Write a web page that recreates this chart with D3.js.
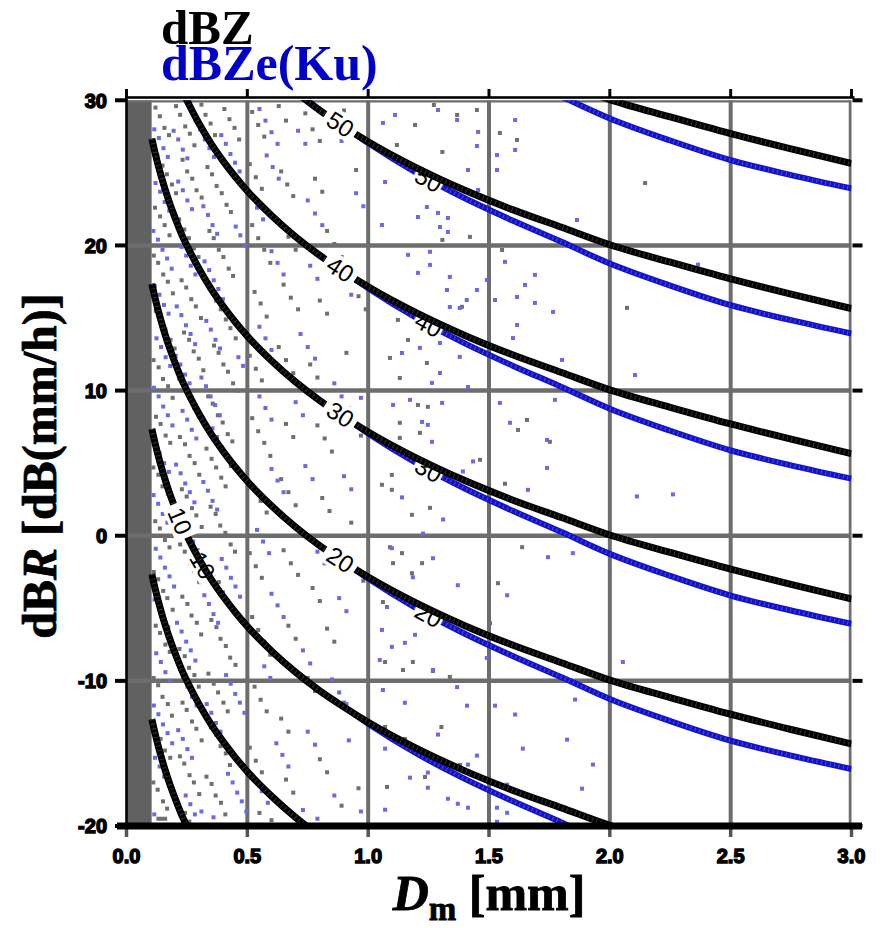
<!DOCTYPE html>
<html>
<head>
<meta charset="utf-8">
<script src="https://cdn.jsdelivr.net/npm/d3@7"></script>
<style>
  body { margin: 0; background: #fff; }
  svg { display: block; }
</style>
</head>
<body>
<svg id="chart" width="883" height="928"></svg>
<script>
// ---- data -------------------------------------------------------------
// Dm nodes [mm] and the offset (dBZ - dBR) along each contour family
const dmGrid   = [0.105, 0.12, 0.14, 0.16, 0.18, 0.2, 0.23, 0.26, 0.3, 0.35, 0.4, 0.45, 0.5, 0.6, 0.7, 0.8, 0.9, 1.0, 1.2, 1.4, 1.6, 1.8, 2.0, 2.25, 2.5, 2.75, 3.0];
const zMinusR  = [2.65, 3.75, 5.02, 6.15, 7.15, 8.05, 9.3, 10.34, 11.6, 12.99, 14.19, 15.27, 16.25, 17.94, 19.41, 20.69, 21.81, 22.85, 24.65, 26.2, 27.55, 28.75, 29.95, 31.15, 32.3, 33.35, 34.35];
const zeMinusR = [2.65, 3.75, 5.02, 6.15, 7.15, 8.05, 9.3, 10.34, 11.6, 12.99, 14.19, 15.27, 16.25, 17.94, 19.41, 20.69, 21.81, 22.95, 25.0, 26.75, 28.3, 29.75, 31.25, 32.77, 34.12, 35.15, 36.07];

const levels = [-10, 0, 10, 20, 30, 40, 50, 60];

const zLabelLevels  = [10, 20, 30, 40, 50];
const zLabelDm      = [0.222, 0.885, 0.885, 0.885, 0.885];
const zeLabelLevels = [10, 20, 30, 40, 50];
const zeLabelDm     = [0.315, 1.25, 1.25, 1.25, 1.25];

const xTicks      = [0, 0.5, 1.0, 1.5, 2.0, 2.5, 3.0];
const xTickLabels = ["0.0", "0.5", "1.0", "1.5", "2.0", "2.5", "3.0"];
const yTicks      = [30, 20, 10, 0, -10, -20];
const yTickLabels = ["30", "20", "10", "0", "-10", "-20"];

const noDataDm = 0.104;   // Dm below this is masked

// sample points [Dm, dBR]
const grayPts = [
  [0.12,29.5],[0.138,28.9],[0.157,28.1],[0.176,27.6],
  [0.205,29.6],[0.222,29.0],[0.243,28.2],[0.262,27.7],[0.281,26.9],
  [0.31,29.7],[0.327,29.0],[0.348,28.4],[0.366,27.6],
  [0.405,29.4],[0.426,28.7],[0.447,28.1],[0.466,27.3],
  [0.128,26.2],[0.149,25.5],[0.167,24.9],[0.188,24.2],[0.205,23.6],
  [0.232,25.9],[0.251,25.1],[0.272,24.6],[0.29,23.8],[0.311,23.3],
  [0.335,25.4],[0.354,24.9],[0.373,24.1],[0.394,23.6],[0.414,22.8],[0.432,22.3],
  [0.118,22.6],[0.139,22.0],[0.158,21.4],[0.178,20.7],
  [0.218,21.8],[0.239,21.1],[0.258,20.5],[0.279,19.8],[0.298,19.2],
  [0.343,21.0],[0.361,20.5],[0.382,19.7],[0.401,19.2],[0.423,18.4],[0.441,17.9],
  [0.113,19.3],[0.131,18.8],[0.152,18.0],[0.171,17.5],[0.192,16.7],
  [0.228,17.6],[0.247,17.1],[0.268,16.3],[0.287,15.8],[0.308,15.0],
  [0.352,16.9],[0.371,16.2],[0.39,15.6],[0.411,14.9],[0.43,14.3],[0.452,13.6],
  [0.121,15.5],[0.142,14.8],[0.161,14.2],[0.182,13.5],[0.199,12.9],
  [0.238,14.0],[0.259,13.5],[0.278,12.7],[0.299,12.2],[0.318,11.4],
  [0.362,13.1],[0.381,12.6],[0.401,11.8],[0.42,11.3],[0.441,10.5],[0.459,10.0],
  [0.112,12.1],[0.133,11.6],[0.151,10.8],[0.172,10.3],[0.191,9.5],
  [0.219,10.8],[0.241,10.1],[0.259,9.5],[0.281,8.8],[0.299,8.2],
  [0.338,9.6],[0.357,9.1],[0.378,8.3],[0.398,7.8],[0.419,7.0],[0.438,6.5],
  [0.122,8.2],[0.141,7.7],[0.162,6.9],[0.181,6.4],
  [0.221,6.8],[0.242,6.3],[0.261,5.5],[0.282,5.0],[0.301,4.2],
  [0.331,6.0],[0.352,5.3],[0.371,4.7],[0.392,4.0],[0.41,3.4],
  [0.111,4.7],[0.132,4.2],[0.149,3.4],[0.171,2.9],[0.19,2.1],
  [0.229,3.2],[0.249,2.7],[0.271,1.9],[0.289,1.4],[0.311,0.6],
  [0.348,2.0],[0.369,1.5],[0.388,0.7],[0.409,0.2],[0.431,-0.6],[0.449,-1.1],
  [0.119,1.0],[0.138,0.5],[0.159,-0.3],[0.178,-0.8],
  [0.222,-0.6],[0.241,-1.1],[0.262,-1.9],[0.279,-2.4],[0.301,-3.2],
  [0.342,-1.9],[0.361,-2.6],[0.382,-3.2],[0.399,-3.9],[0.421,-4.5],
  [0.113,-2.5],[0.131,-3.0],[0.152,-3.8],[0.169,-4.3],[0.191,-5.1],
  [0.231,-4.2],[0.252,-4.7],[0.269,-5.5],[0.291,-6.0],[0.309,-6.8],
  [0.351,-5.8],[0.372,-6.3],[0.389,-7.1],[0.411,-7.6],[0.429,-8.4],[0.451,-8.9],
  [0.121,-6.2],[0.139,-6.7],[0.161,-7.5],[0.179,-8.0],
  [0.219,-7.8],[0.241,-8.3],[0.259,-9.1],[0.281,-9.6],[0.299,-10.4],
  [0.339,-9.5],[0.361,-10.2],[0.379,-10.8],[0.401,-11.5],[0.419,-12.1],
  [0.112,-9.8],[0.131,-10.3],[0.149,-11.1],[0.171,-11.6],[0.188,-12.4],
  [0.232,-11.5],[0.249,-12.0],[0.271,-12.8],[0.289,-13.3],[0.311,-14.1],
  [0.349,-13.2],[0.371,-13.7],[0.389,-14.5],[0.411,-15.0],[0.428,-15.8],
  [0.122,-13.5],[0.141,-14.0],[0.159,-14.8],[0.181,-15.3],
  [0.221,-15.2],[0.239,-15.7],[0.261,-16.5],[0.279,-17.0],[0.301,-17.8],
  [0.331,-16.6],[0.352,-17.1],[0.369,-17.9],[0.391,-18.4],[0.409,-19.2],
  [0.111,-17.0],[0.129,-17.5],[0.151,-18.3],[0.168,-18.8],
  [0.132,-19.5],[0.146,-19.5],[0.16,-19.5],[0.242,-19.1],[0.26,-19.7],
  [0.52,29.2],[0.545,28.3],[0.57,27.5],[0.63,29.6],[0.66,28.6],
  [0.74,29.1],[0.77,28.0],[0.8,27.2],[0.9,29.3],[0.93,28.2],
  [0.51,25.6],[0.535,24.7],[0.56,23.9],[0.64,25.1],[0.665,24.2],[0.69,23.4],
  [0.78,24.6],[0.81,23.7],[0.95,25.2],
  [0.52,21.4],[0.545,20.5],[0.57,19.7],[0.595,18.8],[0.67,20.6],[0.7,19.7],
  [0.83,21.0],[0.86,20.1],[0.89,19.2],
  [0.53,16.8],[0.555,16.0],[0.58,15.1],[0.65,17.3],[0.68,16.4],[0.71,15.6],
  [0.8,16.2],[0.83,15.3],[0.96,16.5],[0.99,15.6],
  [0.51,12.4],[0.535,11.5],[0.56,10.7],[0.63,13.0],[0.66,12.1],[0.69,11.2],
  [0.76,11.8],[0.79,10.9],[0.91,12.6],
  [0.52,8.1],[0.545,7.2],[0.57,6.4],[0.595,5.5],[0.66,7.7],[0.69,6.8],
  [0.79,7.6],[0.82,6.7],[0.85,5.8],[0.97,6.9],
  [0.53,3.3],[0.555,2.4],[0.58,1.6],[0.64,3.9],[0.67,3.0],[0.7,2.1],
  [0.81,2.6],[0.84,1.7],[0.93,0.9],
  [0.51,-1.2],[0.535,-2.1],[0.56,-2.9],[0.65,-1.0],[0.68,-1.9],[0.71,-2.7],
  [0.77,-3.6],[0.8,-4.5],[0.95,-2.2],[0.98,-3.1],
  [0.52,-5.6],[0.545,-6.5],[0.57,-7.3],[0.595,-8.2],[0.67,-6.2],[0.7,-7.1],
  [0.83,-6.4],[0.86,-7.3],
  [0.53,-10.4],[0.555,-11.3],[0.58,-12.1],[0.64,-12.6],[0.67,-13.5],
  [0.75,-9.8],[0.78,-10.7],[0.9,-11.5],
  [0.51,-14.6],[0.535,-15.5],[0.56,-16.3],[0.66,-16.8],[0.69,-17.7],
  [0.8,-15.4],[0.83,-16.3],[0.55,-19.1],[0.6,-19.6],[0.89,-18.6],[0.96,-17.4],
  [1.194,28.3],[1.119,26.92],[1.307,26.44],[1.368,28.99],[1.45,29.33],
  [1.421,20.59],[1.307,20.38],[1.272,29.68],[1.545,27.75],[1.616,27.27],
  [2.146,24.3],[1.554,19.69],[1.388,15.77],[1.123,14.87],[1.165,13.49],
  [1.09,12.25],[1.243,11.9],[1.131,10.87],[2.071,15.7],
  [1.206,9.01],[1.247,8.88],[1.131,7.78],[1.214,7.09],[1.131,6.74],
  [1.098,4.19],[1.098,3.16],[1.256,1.92],[1.181,1.44],[1.057,3.51],
  [1.463,5.23],[1.657,7.98],[1.62,7.29],[1.752,6.47],[1.566,3.58],
  [1.09,-0.79],[1.14,-1.2],[1.103,-1.89],[1.223,-1.89],[1.181,-2.58],
  [1.637,-0.79],[1.537,-3.27],[1.504,-6.02],[1.061,-4.57],
  [1.185,-8.7],[1.144,-9.25],[1.338,-9.73],[1.07,-8.7],[1.268,-9.32],
  [1.07,-13.18],[1.303,-13.18],[1.152,-14.0],[1.38,-15.79],[1.235,-16.62],[1.078,-17.31]
];

const bluePts = [
  [0.115,28.0],[0.134,27.4],[0.153,26.7],[0.171,26.1],
  [0.195,27.9],[0.214,27.3],[0.233,26.6],[0.252,26.0],
  [0.286,28.6],[0.305,28.0],[0.324,27.3],[0.343,26.7],[0.362,26.1],
  [0.392,27.6],[0.411,27.0],[0.43,26.3],[0.449,25.7],[0.468,25.1],
  [0.12,24.3],[0.139,23.7],[0.158,23.0],[0.177,22.4],
  [0.214,24.4],[0.233,23.8],[0.252,23.1],[0.271,22.5],
  [0.318,22.7],[0.337,22.1],[0.356,21.4],[0.375,20.8],
  [0.452,21.3],[0.471,20.7],[0.49,20.0],
  [0.111,21.0],[0.13,20.4],[0.149,19.7],[0.168,19.1],[0.187,18.4],
  [0.228,19.9],[0.247,19.3],[0.266,18.6],[0.285,18.0],
  [0.323,18.9],[0.342,18.3],[0.361,17.6],[0.38,17.0],[0.399,16.3],
  [0.117,17.2],[0.136,16.6],[0.155,15.9],[0.174,15.3],
  [0.208,15.8],[0.227,15.2],[0.246,14.5],[0.265,13.9],[0.284,13.2],
  [0.33,14.8],[0.349,14.2],[0.368,13.5],[0.387,12.9],
  [0.463,12.3],[0.482,11.7],
  [0.124,13.6],[0.143,13.0],[0.162,12.3],[0.181,11.7],
  [0.204,12.4],[0.223,11.8],[0.242,11.1],[0.261,10.5],
  [0.31,10.9],[0.329,10.3],[0.348,9.6],[0.367,9.0],[0.386,8.3],
  [0.114,10.2],[0.133,9.6],[0.152,8.9],[0.171,8.3],[0.19,7.6],
  [0.232,8.6],[0.251,8.0],[0.27,7.3],[0.289,6.7],
  [0.356,7.4],[0.375,6.8],[0.394,6.1],[0.413,5.5],[0.432,4.8],
  [0.118,6.3],[0.137,5.7],[0.156,5.0],[0.175,4.4],
  [0.205,4.9],[0.224,4.3],[0.243,3.6],[0.262,3.0],[0.281,2.3],
  [0.318,3.7],[0.337,3.1],[0.356,2.4],[0.375,1.8],
  [0.112,2.8],[0.131,2.2],[0.15,1.5],[0.169,0.9],
  [0.238,0.9],[0.257,0.3],[0.276,-0.4],[0.295,-1.0],
  [0.394,-1.6],[0.413,-2.2],[0.432,-2.9],[0.451,-3.5],[0.47,-4.2],
  [0.121,-0.9],[0.14,-1.5],[0.159,-2.2],[0.178,-2.8],[0.197,-3.5],
  [0.322,-4.1],[0.341,-4.7],[0.36,-5.4],[0.379,-6.0],
  [0.116,-4.4],[0.135,-5.0],[0.154,-5.7],[0.173,-6.3],
  [0.209,-6.0],[0.228,-6.6],[0.247,-7.3],[0.266,-7.9],[0.285,-8.6],
  [0.412,-9.6],[0.431,-10.2],[0.45,-10.9],[0.469,-11.5],[0.488,-12.2],
  [0.123,-8.1],[0.142,-8.7],[0.161,-9.4],[0.18,-10.0],
  [0.233,-9.8],[0.252,-10.4],[0.271,-11.1],[0.29,-11.7],
  [0.332,-11.6],[0.351,-12.2],[0.37,-12.9],[0.389,-13.5],
  [0.113,-11.7],[0.132,-12.3],[0.151,-13.0],[0.17,-13.6],[0.189,-14.3],
  [0.214,-13.4],[0.233,-14.0],[0.252,-14.7],[0.271,-15.3],
  [0.42,-16.4],[0.439,-17.0],[0.458,-17.7],[0.477,-18.3],[0.496,-19.0],
  [0.118,-15.3],[0.137,-15.9],[0.156,-16.6],[0.175,-17.2],
  [0.245,-17.9],[0.264,-18.5],[0.283,-19.2],[0.31,-19.0],[0.36,-19.4],[0.115,-19.2],
  [0.55,29.4],[0.575,28.6],[0.6,27.8],[0.625,27.0],[0.58,26.2],[0.605,25.4],[0.63,24.6],
  [0.71,27.9],[0.74,27.0],[0.86,28.1],[0.89,27.2],[0.95,23.6],[0.98,22.7],
  [0.75,23.1],[0.78,22.2],[0.81,21.4],[0.54,22.6],[0.565,21.8],
  [0.6,19.6],[0.625,18.8],[0.65,18.0],[0.76,18.6],[0.79,17.7],[0.9,17.5],[0.93,16.6],
  [0.55,14.4],[0.575,13.6],[0.6,12.8],[0.72,13.9],[0.75,13.0],[0.78,12.2],
  [0.86,10.5],[0.89,9.6],[0.92,8.8],[0.55,9.6],[0.575,8.8],[0.6,8.0],
  [0.7,9.2],[0.73,8.3],[0.97,9.5],
  [0.6,4.6],[0.625,3.8],[0.65,3.0],[0.74,4.8],[0.77,3.9],[0.9,4.1],[0.93,3.2],
  [0.54,0.4],[0.565,-0.4],[0.59,-1.2],[0.76,-0.2],[0.79,-1.1],[0.82,-1.9],
  [0.88,-4.3],[0.91,-5.2],[0.6,-4.0],[0.625,-4.8],[0.65,-5.6],
  [0.73,-7.9],[0.76,-8.8],[0.57,-9.0],[0.595,-9.8],
  [0.85,-9.9],[0.88,-10.8],[0.91,-11.6],[0.62,-14.3],[0.645,-15.1],[0.67,-15.9],
  [0.75,-13.5],[0.78,-14.4],[0.56,-17.6],[0.585,-18.4],
  [0.86,-17.9],[0.92,-14.1],[0.97,-19.0],[0.73,-18.9],[0.79,-19.5],
  [1.111,28.99],[1.061,28.44],[1.289,29.33],[1.368,28.64],[1.455,27.82],
  [1.45,26.85],[1.413,25.2],[1.07,24.37],[1.243,22.65],[1.206,21.96],
  [1.289,22.24],[1.33,21.89],[1.057,21.41],[1.297,21.27],[1.33,20.93],
  [1.455,23.82],[1.608,28.64],[1.608,26.58],[1.533,26.23],[1.533,25.2],
  [1.864,21.75],[1.165,19.35],[1.256,19.56],[1.256,18.66],[1.206,18.11],
  [1.566,18.87],[1.338,17.83],[1.491,17.62],[1.45,16.93],[1.326,16.93],
  [1.408,16.24],[1.379,15.69],[1.338,15.76],[1.69,17.97],[1.649,17.28],
  [1.616,16.45],[1.69,16.04],[1.765,15.42],[1.525,16.24],[1.616,14.52],
  [1.599,13.62],[1.264,14.17],[1.214,12.94],[1.14,12.59],[1.297,13.28],
  [1.379,12.32],[1.297,11.21],[1.264,10.53],[1.413,10.25],[1.802,12.11],
  [2.104,11.07],[1.103,9.01],[1.173,9.36],[1.306,9.15],[1.223,7.84],
  [1.247,7.64],[1.264,6.47],[1.14,2.64],[1.31,1.12],[1.434,5.12],
  [1.392,4.43],[1.545,9.15],[1.587,7.78],[1.74,6.6],[1.74,4.67],
  [1.661,3.16],[1.773,9.36],[2.112,2.71],[2.261,2.85],[1.098,-0.86],
  [1.268,-1.55],[1.185,-2.86],[1.371,-3.41],[1.744,-1.48],[1.847,-1.2],
  [1.575,-4.1],[1.227,0.15],[1.078,-4.91],[1.057,-6.49],[1.152,-7.38],
  [1.098,-7.66],[1.194,-6.83],[1.268,-9.25],[1.048,-8.56],[1.491,-8.42],
  [2.054,-8.7],[1.368,-10.43],[1.061,-10.63],[1.152,-11.51],[1.409,-11.71],
  [1.525,-11.71],[1.289,-13.7],[1.608,-12.32],[1.856,-11.29],[1.823,-14.05],
  [1.64,-14.67],[1.07,-14.67],[1.45,-15.15],[1.413,-15.77],[1.247,-16.32],
  [1.173,-16.67],[1.247,-17.36],[1.575,-17.15],[1.93,-15.77],[1.885,-17.43],
  [1.33,-18.12],[1.371,-18.47],[1.413,-18.74],[1.07,-18.88],[1.533,-18.74],
  [1.575,-19.09],[1.533,-19.71],[2.365,18.68]
];

// ---- layout -------------------------------------------------------------
const svg = d3.select("#chart");
const x = d3.scaleLinear().domain([0, 3]).range([126.5, 851.5]);
const y = d3.scaleLinear().domain([-20, 30]).range([826, 100.3]);
const [x0, x1] = x.range();
const [yb, yt] = y.range();

const GRID = "#6d6d6d";
const SANS = "'Liberation Sans', Arial, Helvetica, sans-serif";
const SERIF = "'Liberation Serif', 'Times New Roman', serif";

svg.append("rect").attr("width", 883).attr("height", 928).attr("fill", "#fff");

svg.append("defs").append("clipPath").attr("id", "plotClip")
  .append("rect").attr("x", x0).attr("y", yt).attr("width", x1 - x0).attr("height", yb - yt);

const plot = svg.append("g").attr("clip-path", "url(#plotClip)");

// masked small-Dm band
plot.append("rect")
  .attr("x", x(0)).attr("y", yt)
  .attr("width", x(noDataDm) - x(0)).attr("height", yb - yt)
  .attr("fill", "#616161");

// grid
plot.append("g").selectAll("line").data(xTicks.filter(d => d > 0)).join("line")
  .attr("x1", d => x(d)).attr("x2", d => x(d)).attr("y1", yt).attr("y2", yb)
  .attr("stroke", GRID).attr("stroke-width", d => d === 3 ? 5.5 : 4);
plot.append("g").selectAll("line").data(yTicks.filter(d => d > -20)).join("line")
  .attr("x1", x0).attr("x2", x1).attr("y1", d => y(d)).attr("y2", d => y(d))
  .attr("stroke", GRID).attr("stroke-width", 4.5);

// sample points
const drawPts = (pts, color) => plot.append("g").selectAll("rect").data(pts).join("rect")
  .attr("x", d => x(d[0]) - 2).attr("y", d => y(d[1]) - 2)
  .attr("width", 4).attr("height", 4).attr("fill", color);
drawPts(grayPts, "#6f6f6f");
drawPts(bluePts, "#6a6ae6");

// contour lines: dBR = level - (dBZ - dBR)(Dm)
const line = d3.line().x(d => x(d[0])).y(d => y(d[1])).curve(d3.curveMonotoneX);
const contour = (offsets, level) => dmGrid.map((dm, i) => [dm, level - offsets[i]]);

function drawFamily(offsets, color, width, slit) {
  const g = plot.append("g");
  return levels.map(lv => {
    const p = g.append("path").datum(contour(offsets, lv)).attr("d", line)
      .attr("fill", "none").attr("stroke", color).attr("stroke-width", width);
    g.append("path").datum(contour(offsets, lv)).attr("d", line)
      .attr("fill", "none").attr("stroke", slit).attr("stroke-width", width - 2.5)
      .attr("stroke-dasharray", "0.9 3.6");
    return p;
  });
}

// locate a point on a path by its x position
function pointAtX(node, px) {
  let lo = 0, hi = node.getTotalLength();
  for (let k = 0; k < 40; k++) {
    const mid = (lo + hi) / 2;
    if (node.getPointAtLength(mid).x < px) lo = mid; else hi = mid;
  }
  const l = (lo + hi) / 2;
  const p = node.getPointAtLength(l);
  const a = node.getPointAtLength(Math.max(0, l - 4));
  const b = node.getPointAtLength(l + 4);
  return { x: p.x, y: p.y, angle: Math.atan2(b.y - a.y, b.x - a.x) * 180 / Math.PI };
}

function drawLabels(paths, lvls, dms, boxW) {
  const g = plot.append("g");
  lvls.forEach((lv, i) => {
    const node = paths[levels.indexOf(lv)].node();
    const p = pointAtX(node, x(dms[i]));
    const lg = g.append("g").attr("transform", `translate(${p.x},${p.y}) rotate(${p.angle})`);
    lg.append("rect").attr("x", -boxW / 2).attr("y", -12).attr("width", boxW).attr("height", 24)
      .attr("fill", "#fff");
    lg.append("text").attr("text-anchor", "middle").attr("dy", "0.36em")
      .style("font-family", SANS).style("font-size", "24px").attr("fill", "#000")
      .text(lv);
  });
}

const bluePaths = drawFamily(zeMinusR, "#1212c8", 6, "#5858dc");
drawLabels(bluePaths, zeLabelLevels, zeLabelDm, 30);
const blackPaths = drawFamily(zMinusR, "#000", 7, "#3a3a3a");
drawLabels(blackPaths, zLabelLevels, zLabelDm, 36);

// ---- frame and axes ---------------------------------------------------------
const frame = svg.append("g");
// top edge
frame.append("rect").attr("x", x0).attr("y", 96.2).attr("width", x1 - x0 + 3).attr("height", 2.6).attr("fill", "#000");
frame.selectAll(".tt").data(xTicks).join("line")
  .attr("x1", d => x(d)).attr("x2", d => x(d)).attr("y1", 89).attr("y2", 98)
  .attr("stroke", "#000").attr("stroke-width", 3);
// right ticks
frame.selectAll(".rt").data(yTicks).join("line")
  .attr("x1", x1 + 1).attr("x2", x1 + 11).attr("y1", d => y(d)).attr("y2", d => y(d))
  .attr("stroke", "#000").attr("stroke-width", 4);
// left axis
frame.append("line").attr("x1", x0).attr("x2", x0).attr("y1", 89).attr("y2", yb)
  .attr("stroke", "#000").attr("stroke-width", 2.6);
frame.selectAll(".lt").data(yTicks).join("line")
  .attr("x1", 115).attr("x2", x0).attr("y1", d => y(d)).attr("y2", d => y(d))
  .attr("stroke", "#000").attr("stroke-width", 4);
// bottom axis
frame.selectAll(".bt").data(xTicks).join("line")
  .attr("x1", d => x(d)).attr("x2", d => x(d)).attr("y1", yb).attr("y2", 837)
  .attr("stroke", "#555").attr("stroke-width", 3.5);
frame.append("rect").attr("x", 117).attr("y", yb - 3.5).attr("width", 862 - 117).attr("height", 7).attr("fill", "#000");

// tick labels
frame.selectAll(".yl").data(yTicks).join("text")
  .attr("x", 107).attr("y", d => y(d)).attr("dy", "0.36em").attr("text-anchor", "end")
  .style("font-family", SANS).style("font-weight", "bold").style("font-size", "20px")
  .attr("fill", "#000").attr("stroke", "#000").attr("stroke-width", 1.4)
  .text((d, i) => yTickLabels[i]);
frame.selectAll(".xl").data(xTicks).join("text")
  .attr("x", d => x(d)).attr("y", 863).attr("text-anchor", "middle")
  .style("font-family", SANS).style("font-weight", "bold").style("font-size", "20px")
  .attr("fill", "#000").attr("stroke", "#000").attr("stroke-width", 1.4)
  .text((d, i) => xTickLabels[i]);

// axis titles
const yTitle = svg.append("text")
  .attr("transform", "translate(56,466) rotate(-90)").attr("text-anchor", "middle")
  .style("font-family", SERIF).style("font-weight", "bold").style("font-size", "48px")
  .attr("fill", "#000").attr("stroke", "#000").attr("stroke-width", 0.8);
yTitle.append("tspan").text("dB");
yTitle.append("tspan").style("font-style", "italic").text("R");
yTitle.append("tspan").text(" [dB(mm/h)]");

const xTitle = svg.append("text")
  .attr("x", 489).attr("y", 910).attr("text-anchor", "middle")
  .style("font-family", SERIF).style("font-weight", "bold").style("font-size", "50px")
  .attr("fill", "#000").attr("stroke", "#000").attr("stroke-width", 0.8);
xTitle.append("tspan").style("font-style", "italic").text("D");
xTitle.append("tspan").attr("dy", 10).style("font-size", "33px").text("m");
xTitle.append("tspan").attr("dy", -10).text(" [mm]");

// legend titles
svg.append("text").attr("x", 161).attr("y", 44)
  .style("font-family", SERIF).style("font-weight", "bold").style("font-size", "49px")
  .attr("fill", "#000").text("dBZ");
svg.append("text").attr("x", 161).attr("y", 80)
  .style("font-family", SERIF).style("font-weight", "bold").style("font-size", "50px")
  .attr("fill", "#0000c8").text("dBZe(Ku)");
</script>
</body>
</html>
